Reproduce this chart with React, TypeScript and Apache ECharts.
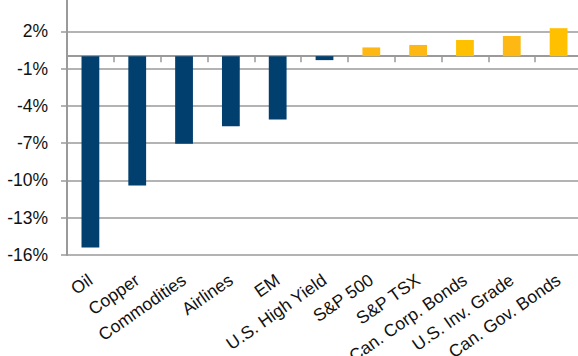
import React, { useEffect, useRef } from "react";
import * as echarts from "echarts";

const categories = [
  "Oil",
  "Copper",
  "Commodities",
  "Airlines",
  "EM",
  "U.S. High Yield",
  "S&P 500",
  "S&P TSX",
  "Can. Corp. Bonds",
  "U.S. Inv. Grade",
  "Can. Gov. Bonds",
];
const values = [-15.4, -10.4, -7.05, -5.65, -5.1, -0.32, 0.7, 0.9, 1.3, 1.62, 2.25];
const barColors = [
  "#003F6E", "#003F6E", "#003F6E", "#003F6E", "#003F6E", "#003F6E",
  "#FDB813", "#FDB813", "#FFC000", "#FDB813", "#FFC000",
];
const yMin = -16;
const yMax = 5;
const yStep = 3;

export default function App() {
  const ref = useRef<HTMLDivElement>(null);
  useEffect(() => {
    if (!ref.current) return;
    const chart = echarts.init(ref.current, null, { renderer: "svg" });
    const gray = "#9a9a9a";
    const font = "Liberation Sans, Arial, sans-serif";
    chart.setOption({
      animation: false,
      grid: {
        left: 67,
        right: -4,
        top: -6,
        bottom: 101,
        containLabel: false,
        outerBoundsMode: "none",
      },
      xAxis: [
        {
          type: "category",
          data: categories,
          axisLine: { onZero: true, lineStyle: { color: gray, width: 2 } },
          axisTick: { show: true, interval: 0, length: 6, lineStyle: { color: gray, width: 1.5 } },
          axisLabel: { show: false },
          splitLine: { show: false },
        },
        {
          type: "category",
          data: categories,
          position: "bottom",
          axisLine: { show: false, onZero: false },
          axisTick: { show: false },
          axisLabel: {
            interval: 0,
            rotate: 35,
            margin: 23,
            fontSize: 17.5,
            fontFamily: font,
            color: "#111",
          },
        },
      ],
      yAxis: {
        type: "value",
        min: yMin,
        max: yMax,
        interval: yStep,
        axisLine: { show: true, lineStyle: { color: gray, width: 2 } },
        axisTick: { show: true, length: 6, lineStyle: { color: gray, width: 1.5 } },
        axisLabel: {
          margin: 19,
          fontSize: 17.5,
          fontFamily: font,
          color: "#111",
          formatter: (v: number) => (v >= yMax ? "" : v + "%"),
        },
        splitLine: { show: true, lineStyle: { color: gray, width: 1.5 } },
      },
      series: [
        {
          type: "bar",
          xAxisIndex: 0,
          barWidth: "38%",
          data: values.map((v, i) => ({ value: v, itemStyle: { color: barColors[i] } })),
        },
      ],
    });
    return () => chart.dispose();
  }, []);
  return (
    <div
      ref={ref}
      style={{ position: "absolute", left: 0, top: 0, width: 578, height: 356, background: "#fff" }}
    />
  );
}
